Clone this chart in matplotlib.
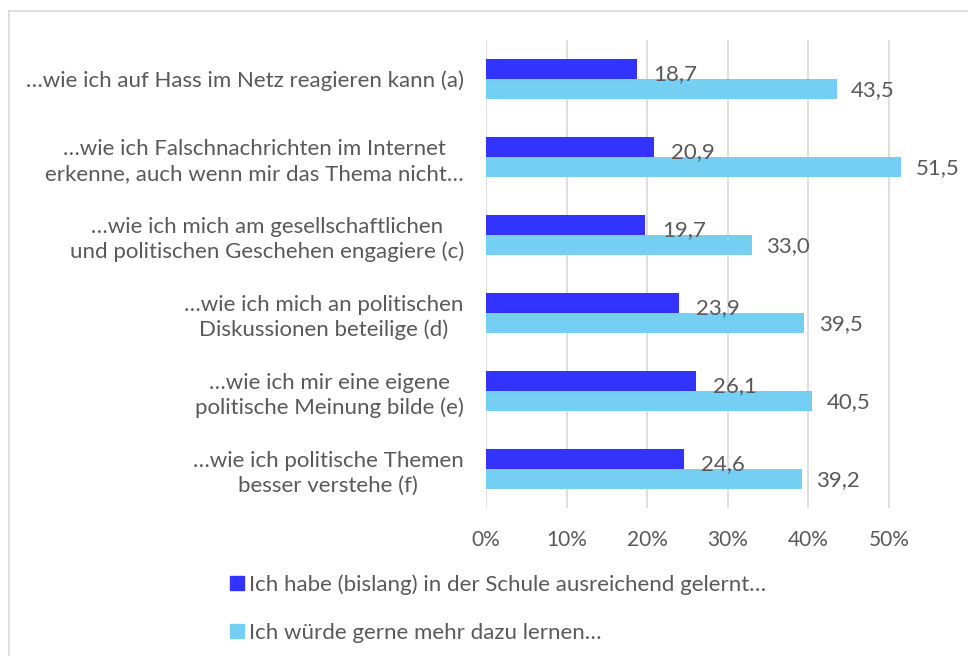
import matplotlib.pyplot as plt
import numpy as np
from matplotlib.lines import Line2D
from matplotlib.ticker import FuncFormatter

categories = [
    "…wie ich auf Hass im Netz reagieren kann (a)",
    "…wie ich Falschnachrichten im Internet\nerkenne, auch wenn mir das Thema nicht…",
    "…wie ich mich am gesellschaftlichen\nund politischen Geschehen engagiere (c)",
    "…wie ich mich an politischen\nDiskussionen beteilige (d)",
    "…wie ich mir eine eigene\npolitische Meinung bilde (e)",
    "…wie ich politische Themen\nbesser verstehe (f)",
]
gelernt = [18.7, 20.9, 19.7, 23.9, 26.1, 24.6]
mehr_lernen = [43.5, 51.5, 33.0, 39.5, 40.5, 39.2]
series_names = [
    "Ich habe (bislang) in der Schule ausreichend gelernt…",
    "Ich würde gerne mehr dazu lernen…",
]
x_ticks = [0, 10, 20, 30, 40, 50]

DARK = "#3333FF"
LIGHT = "#75CFF3"
TEXT = "#595959"
GRID = "#D9D9D9"
FS = 16

plt.rcParams["font.family"] = ["Lato", "DejaVu Sans"]
plt.rcParams["font.size"] = FS

W, H = 968, 656
fig = plt.figure(figsize=(W / 100, H / 100), dpi=100)

# axes placed in pixel terms: 0% at x=486, 10% = 80.6 px
x0, px10 = 486, 80.6
xmax = 55
ax = fig.add_axes([x0 / W, 1 - 508 / H, xmax * px10 / 10 / W, 468 / H])

y = np.arange(len(categories))
h = 0.256
ax.barh(y - h / 2, gelernt, height=h, color=DARK, zorder=3)
ax.barh(y + h / 2, mehr_lernen, height=h, color=LIGHT, zorder=3)

for yi, v in zip(y, gelernt):
    ax.text(v + 2.1, yi - h / 2 + 0.07, f"{v:.1f}".replace(".", ","),
            va="center", ha="left", color=TEXT, fontsize=FS)
for yi, v in zip(y, mehr_lernen):
    ax.text(v + 1.8, yi + h / 2 + 0.02, f"{v:.1f}".replace(".", ","),
            va="center", ha="left", color=TEXT, fontsize=FS, clip_on=False)

ax.set_xlim(0, xmax)
ax.set_ylim(len(categories) - 0.5, -0.5)
ax.set_xticks(x_ticks)
ax.xaxis.set_major_formatter(FuncFormatter(lambda v, p: f"{v:.0f}%"))
ax.set_yticks(y)
ax.set_yticklabels(categories, multialignment="center", linespacing=1.3)
ax.tick_params(axis="both", length=0, colors=TEXT)
ax.tick_params(axis="x", pad=16, labelsize=15)
ax.tick_params(axis="y", pad=16, labelsize=FS)
ax.grid(axis="x", color=GRID, linewidth=1.2, zorder=0)
for s in ax.spines.values():
    s.set_visible(False)

handles = [
    Line2D([], [], marker="s", linestyle="none", markersize=10,
           markerfacecolor=DARK, markeredgecolor=DARK),
    Line2D([], [], marker="s", linestyle="none", markersize=10,
           markerfacecolor=LIGHT, markeredgecolor=LIGHT),
]
fig.legend(handles, series_names, loc="upper left",
           bbox_to_anchor=(230 / W, 1 - 574 / H), frameon=False,
           borderaxespad=0, borderpad=0, handlelength=0.65,
           handletextpad=0.2, labelspacing=1.27, labelcolor=TEXT,
           fontsize=FS)

# chart border (top and left edges visible)
fig.add_artist(Line2D([9 / W, 1], [1 - 11 / H, 1 - 11 / H],
                      transform=fig.transFigure, color=GRID, linewidth=1.2))
fig.add_artist(Line2D([9 / W, 9 / W], [0, 1 - 11 / H],
                      transform=fig.transFigure, color=GRID, linewidth=1.2))

fig.savefig("out.png", dpi=100)
plt.close(fig)
